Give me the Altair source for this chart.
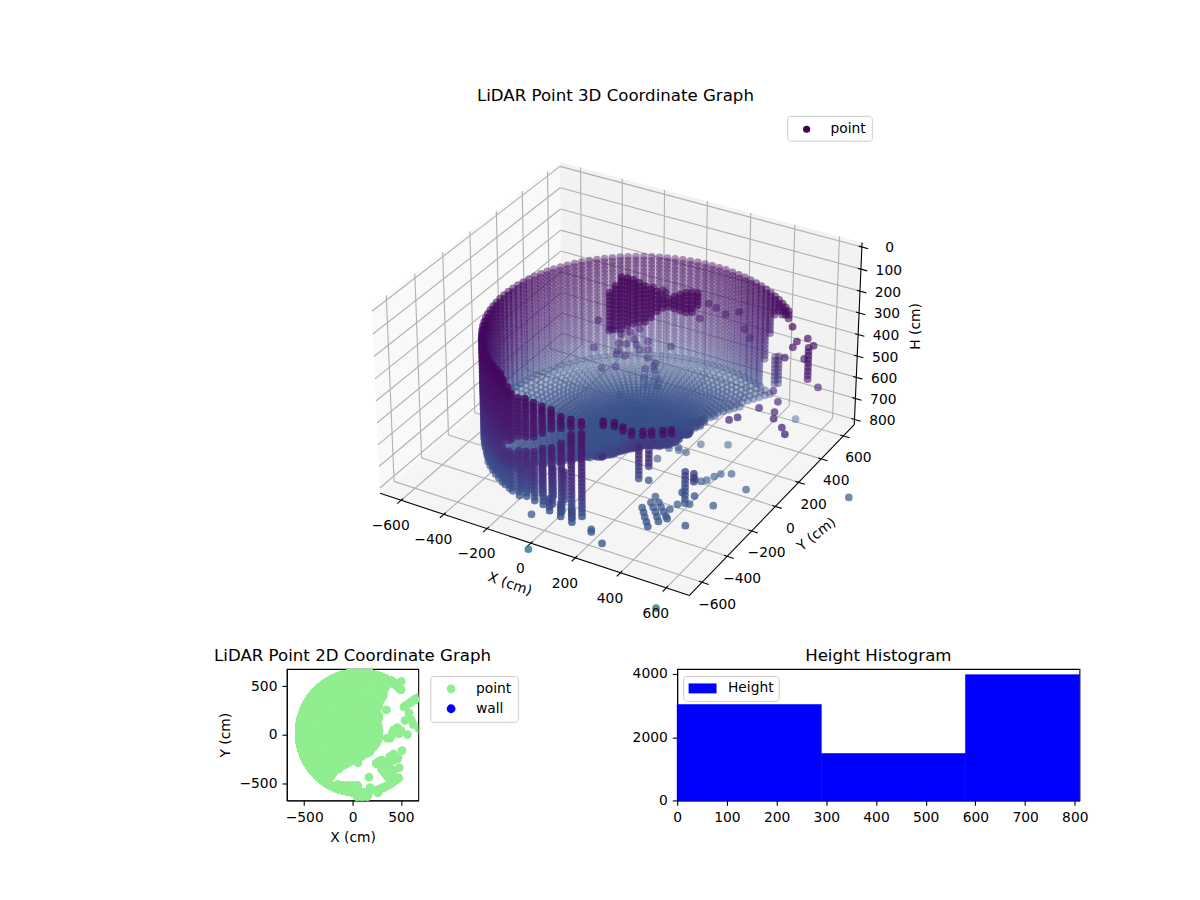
import altair as alt
import numpy as np
import pandas as pd

alt.data_transformers.disable_max_rows()

FONT = "DejaVu Sans"

# view of the 3D box
XY_LIM = (-700.0, 700.0)
H_LIM = (-20.0, 825.0)
ELEV, AZIM = 30.0, -60.0
BOX = (1.143, 1.143, 0.67)
SX, SY, CX, CY = 3100.0, 3190.0, 620.0, 366.5

# wall of the room, one column per azimuth
WALL_CENTER = (70.0, 20.0)
WALL_RADIUS = 620.0
wall_rows = [233, 250, 267, 284, 301, 318, 335, 352, 369, 386, 403, 420, 437, 454, 471, 488, 505,
             522, 539, 556, 573, 590, 607, 624, 641, 658, 675, 692, 709, 726, 743, 760, 777]
wall_az = [46, 49, 52, 55, 58, 61, 64, 67, 70, 73, 76, 79, 82, 85, 88, 91, 94, 97, 100, 103, 106, 109, 112,
           115, 118, 121, 124, 127, 130, 133, 136, 139, 142, 145, 148, 151, 154, 157, 160, 163,
           166, 169, 172, 175, 178, 181, 184, 187, 190, 193, 196, 199, 202, 205, 208, 211, 214,
           217, 220, 223, 225, 228, 231, 234, 237, 240, 242, 245, 247, 251, 255, 259, 263, 267,
           271, 275, 279, 287, 291, 294, 297, 301, 304, 308, 311]
wall_top = [232, 232, 232, 232, 232, 232, 232, 232, 232, 232, 232, 232, 232, 232, 232, 232, 232, 232, 232,
            232, 232, 232, 232, 232, 232, 232, 232, 232, 232, 232, 232, 232, 232, 232, 232, 232,
            232, 232, 232, 232, 232, 232, 232, 232, 232, 232, 232, 232, 232, 232, 232, 232, 232,
            232, 232, 232, 232, 232, 232, 232, 232, 232, 232, 232, 232, 232, 241, 258, 275, 272,
            265, 258, 258, 266, 271, 275, 279, 258, 258, 280, 290, 290, 290, 290, 290]
wall_bot = [270, 280, 285, 290, 330, 420, 560, 700, 700, 700, 700, 700, 700, 700, 700, 700, 700, 700, 700,
            700, 700, 700, 700, 700, 700, 700, 700, 700, 700, 700, 700, 700, 700, 700, 700, 700,
            700, 700, 700, 700, 700, 700, 700, 700, 700, 700, 700, 700, 700, 700, 700, 700, 700,
            700, 700, 700, 700, 700, 700, 715, 728, 730, 730, 730, 730, 730, 730, 730, 730, 732,
            725, 717, 713, 705, 713, 726, 717, 290, 290, 305, 320, 320, 320, 320, 320]
gap_start = [0] * 66 + [509, 505, 496, 470, 440, 420, 394, 364, 343, 322, 317, 0, 0, 0, 0, 0, 0, 0, 0]
gap_end = [0] * 66 + [560, 555, 551, 520, 495, 475, 453, 430, 400, 350, 335, 0, 0, 0, 0, 0, 0, 0, 0]

# floor, rays around the wall centre; the open side of the floor lifts towards its edge
FLOOR_H = 700.0
floor_rings = [18, 36, 54, 72, 90, 108, 127, 146, 165, 185, 205, 226, 247, 269, 291, 314, 337,
               361, 385, 410, 435, 461, 487, 514, 541, 569, 597, 620]
floor_az = [0, 3, 6, 9, 12, 15, 18, 21, 24, 27, 30, 33, 36, 39, 42, 45, 48, 51, 54, 57, 60, 63, 66,
            69, 72, 75, 78, 81, 84, 87, 90, 93, 96, 99, 102, 105, 108, 111, 114, 117, 120, 123,
            126, 129, 132, 135, 138, 141, 144, 147, 150, 153, 156, 159, 162, 165, 168, 171, 174,
            177, 180, 183, 186, 189, 192, 195, 198, 201, 204, 207, 210, 213, 216, 219, 222, 225,
            228, 231, 234, 237, 240, 243, 246, 249, 252, 255, 258, 261, 264, 267, 270, 273, 276,
            279, 282, 285, 288, 291, 294, 297, 300, 303, 306, 309, 312, 315, 318, 321, 324, 327,
            330, 333, 336, 339, 342, 345, 348, 351, 354, 357]
floor_rmax = [200, 200, 205, 205, 205, 205, 205, 206, 210, 215, 225, 240, 255, 265, 270, 275, 278,
              290, 340, 480, 620, 620, 620, 620, 620, 620, 620, 620, 620, 620, 620, 620, 620, 620,
              620, 620, 620, 620, 620, 620, 620, 620, 620, 620, 620, 620, 620, 620, 620, 620, 620,
              620, 620, 620, 620, 620, 620, 620, 620, 620, 620, 620, 620, 620, 620, 620, 620, 620,
              620, 620, 620, 620, 620, 620, 620, 620, 620, 620, 620, 560, 450, 400, 370, 342, 325,
              310, 300, 290, 282, 270, 262, 255, 248, 242, 238, 234, 230, 228, 228, 228, 228, 225,
              222, 220, 218, 216, 214, 212, 212, 212, 212, 212, 212, 212, 212, 214, 210, 205, 202,
              200]
floor_lift = [55, 52, 48, 44, 40, 35, 33, 31, 29, 27, 25, 24, 23, 22, 21, 20, 14, 8] + [0] * 60 + [
    0, 0, 0, 5, 12, 16, 20, 25, 28, 30, 32, 36, 40, 44, 50, 55, 60, 65, 70, 73, 76, 78, 80, 82,
    82, 80, 78, 75, 72, 70, 68, 66, 64, 62, 60, 60, 60, 60, 60, 60, 58, 56]

# vertical runs of points: the dark cluster, then smaller objects
col_x = [-109, -90, -70, -50, -31, -11, 9, 28, 48, 67, 87, 107, 126, 146, 166, 185,
         645, 249, 282, 282, 421, 466, 469, 426, 400, -100, -50, 0, 50, -150, 50, 100, 150]
col_y = [97, 110, 122, 135, 148, 160, 173, 186, 198, 211, 223, 236, 249, 261, 274, 287,
         362, -296, -275, -275, -233, -245, -243, 538, 557, -530, -530, -530, -530, -520, -640, -640, -640]
col_top = [141, 111, 73, 77, 86, 98, 115, 132, 141, 162, 175, 166, 158, 149, 149, 154,
           306, 532, 549, 685, 625, 613, 715, 500, 520, 600, 580, 580, 580, 620, 640, 650, 660]
col_bot = [304, 312, 312, 308, 295, 295, 291, 274, 244, 231, 227, 227, 236, 244, 253, 210,
           455, 677, 634, 685, 774, 660, 715, 640, 660, 720, 720, 720, 720, 740, 700, 710, 720]

# single returns
pt_x = [-247, -211, -201, -169, -139, -106, -126, -116, -152, -178, -185, -181, -106, -77, -77,
        -156, -77, 1, -263, -237, -188, -57, -51, -87, -54, -90, -84, -44, -51, -41, -175,
        129, 155, 188, 234, 100, 253, 273, -28, -18, -61,
        589, 605, 592, 641, 661, 566, 681, 631,
        531, 585, 609, 629, 687, 720, 542, 502, 482,
        504, 253, 350, 464, 428, 414, 401, 386, 358, 568, 951, 511, 425, 385, 376, 484, 262, 190,
        181, 24, 638, -74,
        299, 320, 340, 362, 383, 311, 335, 359, 380, 401, 305, 337, 361, 386, 409, 421,
        426, 55, 170,
        97, 139, 179, 221, 253, 84, 126, 166, 208, 177]
pt_y = [242, 265, 271, 292, 311, 332, 320, 326, 303, 286, 282, 284, 332, 351, 351,
        301, 351, 402, 231, 248, 280, 364, 368, 345, 366, 343, 347, 373, 368, 375, 288,
        484, 501, 522, 552, 465, 565, 577, 383, 389, 362,
        326, 337, 328, 360, 373, 312, 385, 354,
        289, 225, 150, 104, 62, 24, 147, 42, 9,
        552, 204, 256, 73, 50, 21, -17, -36, -35, 1, 139, -165, -202, -227, -272, -342, -603, -562,
        -547, -757, -846, -573,
        -356, -382, -408, -434, -460, -308, -333, -357, -382, -408, -262, -291, -316, -340, -363, -375,
        -265, -290, -440,
        58, 65, 72, 79, 80, 76, 83, 90, 97, -19]
pt_h = [377, 428, 423, 445, 436, 423, 470, 496, 491, 487, 538, 521, 521, 483, 521,
        547, 560, 509, 504, 602, 598, 598, 585, 611, 619, 653, 691, 662, 691, 700, 730,
        313, 334, 364, 355, 381, 436, 479, 245, 257, 232,
        209, 277, 302, 264, 298, 349, 489, 357,
        500, 500, 500, 500, 500, 500, 500, 500, 500,
        780, 790, 790, 790, 790, 790, 790, 790, 790, 790, 780, 790, 790, 790, 790, 790, 795, 790,
        790, 812, 815, 790,
        760, 760, 760, 760, 760, 760, 760, 760, 760, 760, 760, 760, 760, 760, 760, 760,
        700, 640, 520,
        760, 760, 760, 760, 760, 760, 760, 760, 760, 760]

color_stops = [0, 250, 450, 600, 700, 795, 815]
color_range = ["#440154", "#45095f", "#471d70", "#45337f", "#3b528b", "#3b5a8c", "#2a788e"]

# axis ticks
xy_ticks = [-600, -400, -200, 0, 200, 400, 600]
h_ticks = [0, 100, 200, 300, 400, 500, 600, 700, 800]

# 2D panel
scatter_lim = [-680, 680]
scatter_kinds = ["point", "wall"]
scatter_colors = ["lightgreen", "blue"]

# histogram
hist_lo = [0, 290, 580]
hist_hi = [290, 580, 809.4]
hist_count = [3032, 1484, 3979]


def cloud_frame() -> pd.DataFrame:
    xs, ys, hs = [], [], []
    for i, az in enumerate(wall_az):
        for h in wall_rows:
            if h < wall_top[i] or h > wall_bot[i]:
                continue
            if gap_start[i] < h < gap_end[i]:
                continue
            xs.append(WALL_CENTER[0] + WALL_RADIUS * np.cos(np.radians(az)))
            ys.append(WALL_CENTER[1] + WALL_RADIUS * np.sin(np.radians(az)))
            hs.append(h)
    for az, rmax, lift in zip(floor_az, floor_rmax, floor_lift):
        for r in floor_rings:
            if r > rmax:
                continue
            xs.append(WALL_CENTER[0] + r * np.cos(np.radians(az)))
            ys.append(WALL_CENTER[1] + r * np.sin(np.radians(az)))
            hs.append(FLOOR_H - lift * r / rmax)
    for x, y, top, bot in zip(col_x, col_y, col_top, col_bot):
        for h in np.arange(top, bot + 1, 18):
            xs.append(x)
            ys.append(y)
            hs.append(float(h))
    xs.extend(pt_x)
    ys.extend(pt_y)
    hs.extend(pt_h)
    return pd.DataFrame({"x": xs, "y": ys, "h": hs})


def project(x, y, h):
    x, y, h = np.asarray(x, float), np.asarray(y, float), np.asarray(h, float)
    span = XY_LIM[1] - XY_LIM[0]
    p = ((x - XY_LIM[0]) / span - 0.5) * BOX[0]
    q = ((y - XY_LIM[0]) / span - 0.5) * BOX[1]
    r = ((H_LIM[1] - h) / (H_LIM[1] - H_LIM[0]) - 0.5) * BOX[2]
    el, az = np.radians(ELEV), np.radians(AZIM)
    w = (np.cos(el) * np.cos(az), np.cos(el) * np.sin(az), np.sin(el))
    u = (-np.sin(az), np.cos(az), 0.0)
    v = (-np.sin(el) * np.cos(az), -np.sin(el) * np.sin(az), np.cos(el))
    depth = w[0] * p + w[1] * q + w[2] * r
    f = 1.0 / (10.0 - depth)
    sx = CX + SX * f * (u[0] * p + u[1] * q)
    sy = CY - SY * f * (v[0] * p + v[1] * q + v[2] * r)
    return sx, sy, depth


def segments(rows):
    out = []
    for a, b in rows:
        ax, ay, _ = project(*a)
        bx, by, _ = project(*b)
        out.append({"a": float(ax), "b": float(ay), "a2": float(bx), "b2": float(by)})
    return pd.DataFrame(out)


def pane_frame(corners):
    pts = [tuple(float(v) for v in project(*c)[:2]) for c in corners]
    rows = []
    for px in sorted(p[0] for p in pts):
        hits = []
        for i in range(len(pts)):
            (x1, y1), (x2, y2) = pts[i], pts[(i + 1) % len(pts)]
            if min(x1, x2) <= px <= max(x1, x2) and x1 != x2:
                hits.append(y1 + (y2 - y1) * (px - x1) / (x2 - x1))
        rows.append({"a": px, "b": min(hits), "b2": max(hits)})
    return pd.DataFrame(rows)


cloud = cloud_frame()
cloud["px"], cloud["py"], cloud["depth"] = project(cloud["x"], cloud["y"], cloud["h"])
d0, d1 = cloud["depth"].min(), cloud["depth"].max()
cloud["alpha"] = (0.3 + 0.7 * (cloud["depth"] - d0) / (d1 - d0)).clip(upper=0.8)
cloud = cloud.sort_values("depth").reset_index(drop=True)

lo, hi = XY_LIM
top_h, bot_h = H_LIM

x_scale = alt.Scale(domain=[8, 1192], nice=False, zero=False)
y_scale = alt.Scale(domain=[669, 8], nice=False, zero=False)
X = alt.X("a:Q", scale=x_scale, axis=None)
Y = alt.Y("b:Q", scale=y_scale, axis=None)

panes = []
for corners, fill in [
    ([(lo, lo, bot_h), (lo, hi, bot_h), (lo, hi, top_h), (lo, lo, top_h)], "#f9f9f9"),
    ([(lo, hi, bot_h), (hi, hi, bot_h), (hi, hi, top_h), (lo, hi, top_h)], "#f2f2f2"),
    ([(lo, lo, bot_h), (hi, lo, bot_h), (hi, hi, bot_h), (lo, hi, bot_h)], "#f5f5f5"),
]:
    panes.append(alt.Chart(pane_frame(corners)).mark_area(color=fill).encode(x=X, y=Y, y2="b2:Q"))

grid_rows = []
for t in xy_ticks:
    grid_rows.append(((t, lo, bot_h), (t, hi, bot_h)))
    grid_rows.append(((t, hi, bot_h), (t, hi, top_h)))
    grid_rows.append(((hi, t, bot_h), (lo, t, bot_h)))
    grid_rows.append(((lo, t, bot_h), (lo, t, top_h)))
for t in h_ticks:
    grid_rows.append(((lo, lo, t), (lo, hi, t)))
    grid_rows.append(((lo, hi, t), (hi, hi, t)))
grid = alt.Chart(segments(grid_rows)).mark_rule(color="#b0b0b0", strokeWidth=1.1).encode(x=X, y=Y, x2="a2:Q", y2="b2:Q")

axis_rows = [
    ((lo, lo, bot_h), (hi, lo, bot_h)),
    ((hi, lo, bot_h), (hi, hi, bot_h)),
    ((hi, hi, top_h), (hi, hi, bot_h)),
]
for t in xy_ticks:
    axis_rows.append(((t, lo - 28, bot_h), (t, lo + 14, bot_h)))
    axis_rows.append(((hi + 28, t, bot_h), (hi - 14, t, bot_h)))
for t in h_ticks:
    axis_rows.append(((hi + 28, hi, t), (hi - 14, hi, t)))
axes3d = alt.Chart(segments(axis_rows)).mark_rule(color="black", strokeWidth=1.1).encode(x=X, y=Y, x2="a2:Q", y2="b2:Q")

label_rows = []
for t in xy_ticks:
    sx, sy, _ = project(t, lo, bot_h)
    label_rows.append({"a": float(sx) - 10.5, "b": float(sy) + 26, "label": str(t).replace("-", "\u2212")})
    sx, sy, _ = project(hi, t, bot_h)
    label_rows.append({"a": float(sx) + 15, "b": float(sy) + 22.5, "label": str(t).replace("-", "\u2212")})
for t in h_ticks:
    sx, sy, _ = project(hi, hi, t)
    label_rows.append({"a": float(sx) + 28, "b": float(sy) + 1.5, "label": str(t)})
tick_labels = alt.Chart(pd.DataFrame(label_rows)).mark_text(font=FONT, fontSize=13.9, color="black").encode(x=X, y=Y, text="label:N")

points = alt.Chart(cloud[["px", "py", "h", "alpha"]].round(2)).mark_circle(size=60).encode(
    x=alt.X("px:Q", scale=x_scale, axis=None),
    y=alt.Y("py:Q", scale=y_scale, axis=None),
    color=alt.Color("h:Q", scale=alt.Scale(domain=color_stops, range=color_range), legend=None),
    opacity=alt.Opacity("alpha:Q", scale=None, legend=None),
)

titles_3d = []
for text, a, b, size, angle in [
    ("LiDAR Point 3D Coordinate Graph", 614, 94, 16.7, 0),
    ("X (cm)", 508, 584, 13.9, 19),
    ("Y (cm)", 816, 534, 13.9, 322),
    ("H (cm)", 916, 325, 13.9, 270),
]:
    titles_3d.append(
        alt.Chart(pd.DataFrame({"a": [a], "b": [b], "t": [text]}))
        .mark_text(font=FONT, fontSize=size, angle=angle, color="black")
        .encode(x=X, y=Y, text="t:N")
    )

legend_box = alt.Chart(pd.DataFrame({"a": [787], "a2": [872], "b": [114], "b2": [139]})).mark_rect(
    fill="white", stroke="#cccccc", cornerRadius=3, strokeWidth=1
).encode(x=X, y=Y, x2="a2:Q", y2="b2:Q")
legend_dot = alt.Chart(pd.DataFrame({"a": [806], "b": [127]})).mark_circle(size=52, color="#440154", opacity=1).encode(x=X, y=Y)
legend_text = alt.Chart(pd.DataFrame({"a": [830], "b": [126.5], "t": ["point"]})).mark_text(
    font=FONT, fontSize=13.9, align="left", color="black"
).encode(x=X, y=Y, text="t:N")

panel_3d = alt.layer(
    *panes, grid, axes3d, points, tick_labels, *titles_3d, legend_box, legend_dot, legend_text
).properties(width=1184, height=661, view=alt.ViewBackground(stroke="transparent"))

axis_style = dict(
    grid=False, domainColor="black", tickColor="black", labelColor="black", titleColor="black",
    tickSize=4.9, tickWidth=1.1, domainWidth=1.1, labelFontSize=13.9, titleFontSize=13.9,
    titleFontWeight="normal", labelFont=FONT, titleFont=FONT, labelPadding=5, labelFlush=False,
    format="d",
)

scatter_df = pd.DataFrame({"x": cloud["x"].round(1), "y": cloud["y"].round(1), "kind": "point"})
minus = "replace(datum.label, '-', '\u2212')"
panel_2d = alt.Chart(scatter_df).mark_circle(size=78, opacity=1, clip=True).encode(
    x=alt.X("x:Q", title="X (cm)", scale=alt.Scale(domain=scatter_lim, nice=False, zero=False),
            axis=alt.Axis(values=[-500, 0, 500], titlePadding=6, labelExpr=minus, **axis_style)),
    y=alt.Y("y:Q", title="Y (cm)", scale=alt.Scale(domain=scatter_lim, nice=False, zero=False),
            axis=alt.Axis(values=[-500, 0, 500], titlePadding=7, labelExpr=minus, **axis_style)),
    color=alt.Color("kind:N", scale=alt.Scale(domain=scatter_kinds, range=scatter_colors), legend=alt.Legend(
        orient="none", legendX=144, legendY=7, title=None, fillColor="white", strokeColor="#cccccc",
        cornerRadius=3, padding=6, labelFont=FONT, labelFontSize=13.9, labelColor="black",
        symbolType="circle", symbolSize=78, symbolOpacity=1, symbolOffset=8, labelOffset=18, rowPadding=5,
    )),
).properties(
    width=132, height=132,
    title=alt.Title("LiDAR Point 2D Coordinate Graph", font=FONT, fontSize=16.7, fontWeight="normal", anchor="middle", offset=4, color="black"),
    view=alt.ViewBackground(stroke="black", strokeWidth=1.1),
)

hist_df = pd.DataFrame({"lo": hist_lo, "hi": hist_hi, "count": hist_count, "base": [0, 0, 0], "name": ["Height"] * 3})
panel_hist = alt.Chart(hist_df).mark_rect(stroke="blue", strokeWidth=0.6).encode(
    x=alt.X("lo:Q", title=None, scale=alt.Scale(domain=[0, 809.4], nice=False, zero=False),
            axis=alt.Axis(values=[0, 100, 200, 300, 400, 500, 600, 700, 800], **axis_style)),
    x2="hi:Q",
    y=alt.Y("count:Q", title=None, scale=alt.Scale(domain=[0, 4158], nice=False, zero=False),
            axis=alt.Axis(values=[0, 2000, 4000], **axis_style)),
    y2="base:Q",
    color=alt.Color("name:N", scale=alt.Scale(domain=["Height"], range=["blue"]), legend=alt.Legend(
        orient="none", legendX=6, legendY=7, title=None, fillColor="white", strokeColor="#cccccc",
        cornerRadius=3, padding=5, labelFont=FONT, labelFontSize=13.9, labelColor="black",
        symbolType="M-1.87,-0.667H1.87V0.667H-1.87Z", symbolSize=225, symbolStrokeWidth=0, symbolOffset=7, labelOffset=18,
    )),
).properties(
    width=404, height=132,
    title=alt.Title("Height Histogram", font=FONT, fontSize=16.7, fontWeight="normal", anchor="middle", offset=2, color="black"),
    view=alt.ViewBackground(stroke="black", strokeWidth=1.1),
)

spacer = alt.Chart(pd.DataFrame({"a": [0]})).mark_point(opacity=0).encode(x=alt.value(0), y=alt.value(0)).properties(
    width=16, height=132, view=alt.ViewBackground(stroke="transparent")
)

bottom = alt.hconcat(spacer, panel_2d, panel_hist, spacing=260, bounds="flush").resolve_scale(color="independent")
chart = alt.vconcat(panel_3d, bottom, spacing=0, bounds="flush").properties(padding=0, background="white")

chart.save("out.html", embed_options={"renderer": "svg", "actions": False})
